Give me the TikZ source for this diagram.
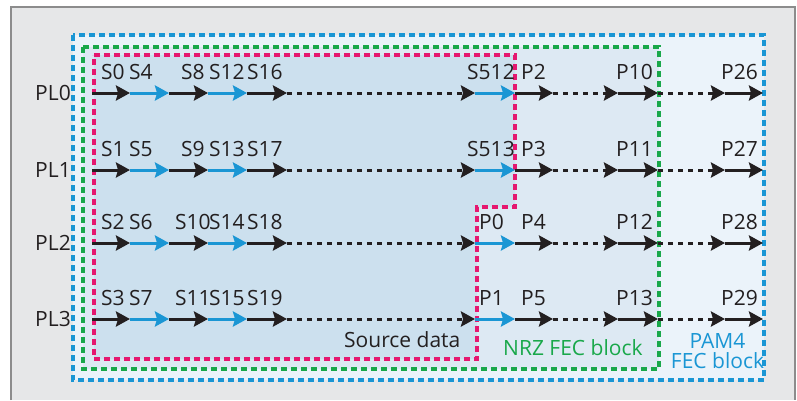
\documentclass[tikz,border=0pt]{standalone}
\usepackage{fontspec}
\setmainfont{Open Sans}
\usepackage{tikz}
\usetikzlibrary{
  arrows.meta,
  calc,
  positioning
}
\definecolor{fecblue}{HTML}{1A96D4}
\definecolor{fecgreen}{HTML}{19A84A}
\definecolor{srcpink}{HTML}{E5176F}
\definecolor{arrowblack}{HTML}{231F20}
\definecolor{bggrey}{HTML}{E6E7E8}
\definecolor{framegrey}{HTML}{8C8C8C}
\definecolor{srcfill}{HTML}{CCE0EE}
\definecolor{nrzfill}{HTML}{DDE9F3}
\definecolor{pamfill}{HTML}{EBF3FA}
\tikzset{>=Stealth}
\tikzset{
  seg/.style={line width=3pt,arrowblack,-{Stealth[length=14pt,width=15pt,inset=2pt]}},
  blueseg/.style={seg,fecblue},
  gapseg/.style={seg,dash pattern=on 5pt off 5pt},
  boxline/.style={line width=3.5pt,dash pattern=on 6pt off 4pt},
  lbl/.style={anchor=base west,inner sep=0pt,text=arrowblack,font=\fontsize{21}{25}\selectfont}
}

\begin{document}
\begin{tikzpicture}[x=1pt,y=-1pt]
  \useasboundingbox (0,0) rectangle (797,400);
  % frame
  \fill[white] (0,0) rectangle (797,400);
  \fill[bggrey] (11,7) rectangle (795,400);
  \draw[framegrey,line width=1.8pt] (11,400)--(11,7)--(795,7)--(795,400);
  % the three blocks
  \fill[pamfill] (73,35) rectangle (764,380);
  \fill[nrzfill] (83,47) rectangle (659,369);
  \fill[srcfill] (94,55) -| (515,207) -| (477,359) -| cycle;
  \draw[boxline,fecblue]  (73,35) rectangle (764,380);
  \draw[boxline,fecgreen] (83,47) rectangle (659,369);
  \draw[boxline,srcpink]  (94,55) -| (515,207) -| (477,359) -| cycle;

  % lanes
  \foreach \r/\y in {0/93,1/170,2/243,3/319}{
    \node[lbl,anchor=base east] (pl\r) at (71,\y+7) {PL\r};
    \foreach \i/\x in {0/92,1/130,2/169,3/208,4/247,5/287,6/475,7/515,8/553,9/618,10/658,11/725,12/763}
      \coordinate (t\r-\i) at (\x,\y);
    \foreach \i/\j/\s in {0/1/seg,1/2/blueseg,2/3/seg,3/4/blueseg,4/5/seg,5/6/gapseg,
                          6/7/blueseg,7/8/seg,8/9/gapseg,9/10/seg,10/11/gapseg,11/12/seg}
      \draw[\s] (t\r-\i) -- (t\r-\j);
  }

  % symbol labels
  \foreach \r/\y/\names in {
      0/79/{101/S0,129/S4,181/S8,209/S12,247/S16,467/S512,521/P2,616/P10,721/P26},
      1/156/{101/S1,129/S5,181/S9,209/S13,247/S17,467/S513,521/P3,616/P11,721/P27},
      2/229/{101/S2,129/S6,175/S10,209/S14,247/S18,479/P0,521/P4,616/P12,721/P28},
      3/305/{101/S3,129/S7,175/S11,209/S15,247/S19,479/P1,521/P5,616/P13,721/P29}}{
    \foreach \x/\n [count=\k] in \names
      \node[lbl] (lb\r-\k) at (\x,\y) {\n};
  }

  % block names
  \node[lbl] (srcname) at (344,347) {Source data};
  \node[lbl,text=fecgreen] (nrzname) at (503,355) {NRZ FEC block};
  \node[lbl,anchor=base,text=fecblue] (pamtop) at (717.5,348) {PAM4};
  \node[lbl,anchor=base,text=fecblue] (pambot) at (717.5,368) {FEC block};
\end{tikzpicture}
\end{document}
